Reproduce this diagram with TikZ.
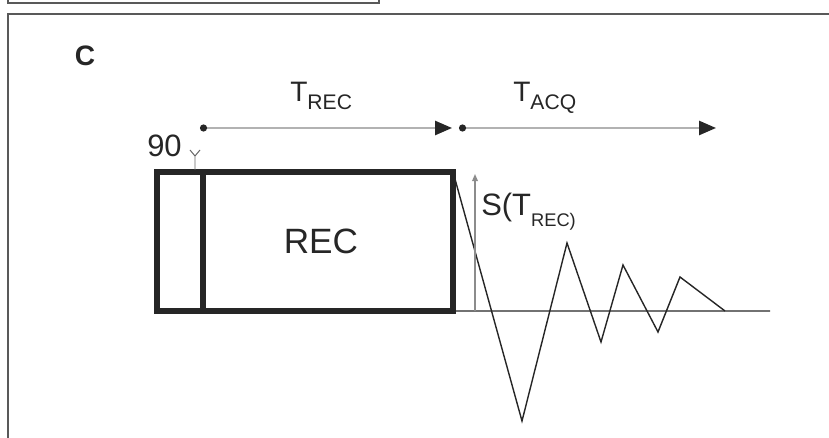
\documentclass[tikz,border=0pt]{standalone}
\usepackage{fontspec}
\setmainfont{Liberation Sans}
\usetikzlibrary{arrows.meta}
\newcommand{\subtxt}[3]{\raisebox{-#1}{\fontsize{#2}{#2}\selectfont #3}}

\begin{document}
\begin{tikzpicture}[x=0.025cm,y=-0.025cm,
  every node/.style={inner sep=0pt,text=black!85},
  frame/.style={line width=1.3pt,draw=black!65},
  pulsebox/.style={draw=black!85,line width=4.5pt,outer sep=0pt,minimum height=3.475cm},
  timeline/.style={line width=1.5pt,draw=black!30,
    {Circle[length=5pt,color=black!85]}-{Triangle[length=12pt,width=10pt,color=black!85]}},
  fid/.style={line width=1pt,draw=black!85}]
  \useasboundingbox (0,0) rectangle (829,438);
  % panel frames
  \draw[frame] (8,-5) -- (8,3) -- (379,3) -- (379,-5);
  \draw[frame] (8,445) -- (8,14) -- (835,14);
  \node[font=\fontsize{20}{20}\selectfont\bfseries] (lblC) at (85,56) {C};
  % pulse sequence
  \node[pulsebox,minimum width=1.15cm] (p90) at (180,241.5) {};
  \node[pulsebox,minimum width=6.25cm,font=\fontsize{25}{25}\selectfont] (rec) at (328,241.5) {\hspace*{-10pt}REC};
  \node[anchor=base west,font=\fontsize{22}{22}\selectfont] (lbl90) at (147,157) {90};
  \coordinate (t90) at (195,170);
  \draw[line width=0.7pt,draw=black!60] (t90) -- ++(0,-14) coordinate (v90) -- ++(-5,-6) (v90) -- ++(5,-6);
  % time axes
  \coordinate (recstart) at (200,128);
  \coordinate (recend) at (452,128);
  \coordinate (acqstart) at (459,128);
  \coordinate (acqend) at (716,128);
  \draw[timeline] (recstart) -- (recend);
  \draw[timeline] (acqstart) -- (acqend);
  \node[anchor=base west,font=\fontsize{20}{20}\selectfont] (trec) at (290,102) {T\subtxt{5.5pt}{15}{REC}};
  \node[anchor=base west,font=\fontsize{20}{20}\selectfont] (tacq) at (513,102) {T\subtxt{5.5pt}{15}{ACQ}};
  % signal
  \coordinate (basend) at (770,311);
  \draw[fid] (rec.south east) -- (basend);
  \draw[fid] (rec.north east) -- (522,421) -- (567,243) -- (601,342) -- (623,265)
    -- (658,332) -- (680,277) -- (725,311);
  \coordinate (sbase) at (475,311);
  \coordinate (stop) at (475,174);
  \draw[line width=1pt,draw=black!45,-{Triangle[length=5pt,width=4pt]}] (sbase) -- (stop);
  \node[anchor=base west,font=\fontsize{22}{22}\selectfont] (slbl) at (481,216) {S(T\subtxt{7.5pt}{13}{REC)}};
\end{tikzpicture}
\end{document}
